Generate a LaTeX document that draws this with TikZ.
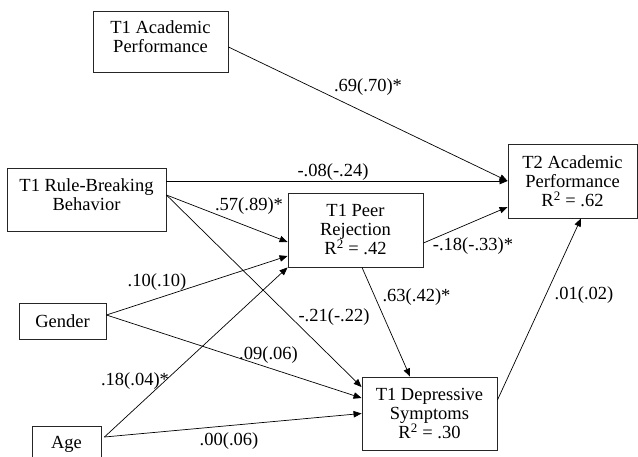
\documentclass[tikz,border=0pt]{standalone}
\usepackage{fontspec}
\setmainfont{Liberation Serif}
\usetikzlibrary{arrows.meta}

\begin{document}
\begin{tikzpicture}[x=1pt,y=-1pt,
    every node/.style={font=\fontsize{18.5pt}{19pt}\selectfont},
    box/.style={draw=black!85,line width=0.9pt,inner sep=0pt,align=center},
    lbl/.style={anchor=base,inner sep=0pt},
    arr/.style={-{Triangle[length=8pt,width=6.5pt]},line width=0.7pt}]
    \useasboundingbox (0,0) rectangle (638,457);
    \clip (0,0) rectangle (638,457);
    % variables
    \node[box,minimum width=135pt,minimum height=61pt,text depth=10pt] (t1ap) at (160.5,41.5) {T1 Academic\\Performance};
    \node[box,minimum width=159pt,minimum height=63pt,text depth=10pt] (rbb) at (86.5,199.5) {T1 Rule-Breaking\\Behavior};
    \node[box,minimum width=87pt,minimum height=36pt] (gender) at (62.5,321) {Gender};
    \node[box,minimum width=69pt,minimum height=36pt] (age) at (66.5,444) {Age};
    \node[box,minimum width=135pt,minimum height=74pt] (peer) at (355.5,230) {T1 Peer\\Rejection\\R\textsuperscript{2} = .42};
    \node[box,minimum width=135pt,minimum height=73pt] (dep) at (429.5,413.5) {T1 Depressive\\Symptoms\\R\textsuperscript{2} = .30};
    \node[box,minimum width=129pt,minimum height=74pt] (t2ap) at (572.5,181) {T2 Academic\\Performance\\R\textsuperscript{2} = .62};
    % paths
    \draw[arr] ([yshift=-5.5pt]t1ap.east) -- (t2ap.west);
    \draw[arr] (rbb.east |- t2ap.west) -- (t2ap.west);
    \draw[arr] ([yshift=4.5pt]rbb.east) -- ([yshift=-12pt]peer.west);
    \draw[arr] ([yshift=4.5pt]rbb.east) -- ([yshift=26.5pt]dep.west);
    \draw[arr] ([yshift=6pt]gender.east) -- ([yshift=-26pt]peer.west);
    \draw[arr] ([yshift=6pt]gender.east) -- ([yshift=15.5pt]dep.west);
    \draw[arr] ([xshift=3pt,yshift=7pt]age.east) -- (peer.south west);
    \draw[arr] ([xshift=3pt,yshift=7pt]age.east) -- (dep.west);
    \draw[arr] ([xshift=6.5pt]peer.south) -- ([xshift=-19.5pt]dep.north);
    \draw[arr] ([yshift=-13pt]peer.east) -- ([yshift=-26pt]t2ap.west);
    \draw[arr] ([yshift=13.5pt]dep.east) -- ([xshift=8.5pt]t2ap.south);
    % coefficients
    \node[lbl] (c1) at (368,92) {.69(.70)*};
    \node[lbl] (c2) at (333,177) {-.08(-.24)};
    \node[lbl] (c3) at (249,211) {.57(.89)*};
    \node[lbl] (c4) at (473,251) {-.18(-.33)*};
    \node[lbl] (c5) at (416.5,302) {.63(.42)*};
    \node[lbl] (c6) at (334,322) {-.21(-.22)};
    \node[lbl] (c7) at (584,300) {.01(.02)};
    \node[lbl] (c8) at (157,287) {.10(.10)};
    \node[lbl] (c9) at (268.5,360) {.09(.06)};
    \node[lbl] (c10) at (135,385) {.18(.04)*};
    \node[lbl] (c11) at (229,445) {.00(.06)};
\end{tikzpicture}
\end{document}
